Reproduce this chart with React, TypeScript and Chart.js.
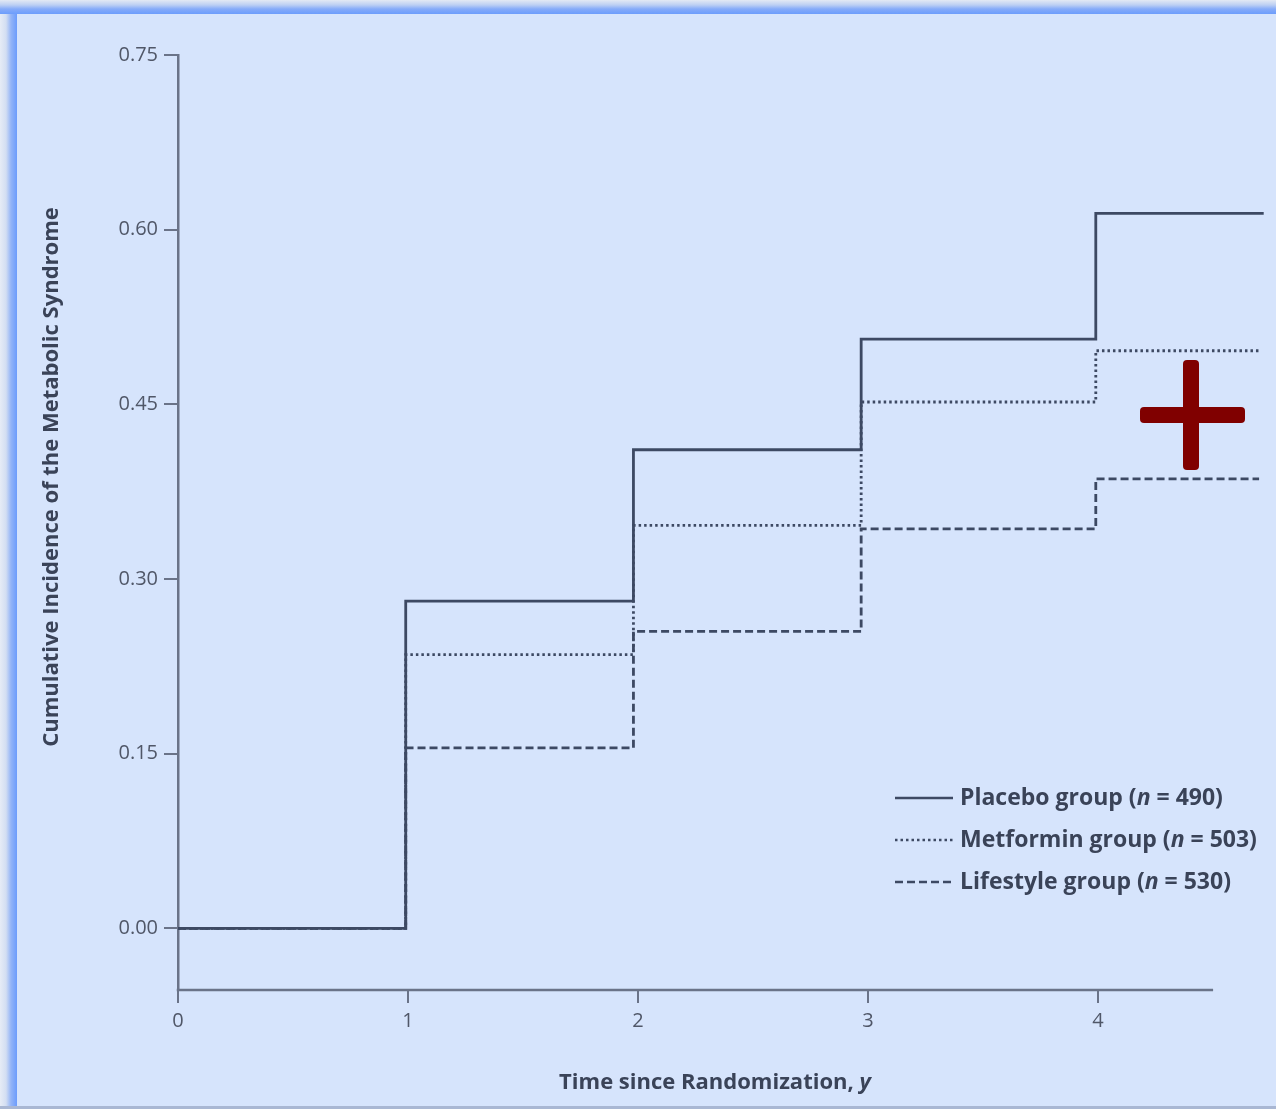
import React, { useEffect, useRef } from "react";
import { Chart, registerables } from "chart.js";

Chart.register(...registerables);

// ---- Data ----
const placeboX = [0, 0.99, 1.98, 2.97, 3.99, 4.72];
const placeboY = [0, 0.281, 0.411, 0.506, 0.614, 0.614];
const metforminX = [0, 0.99, 1.98, 2.97, 3.99, 4.71];
const metforminY = [0, 0.235, 0.346, 0.452, 0.496, 0.496];
const lifestyleX = [0, 0.99, 1.98, 2.97, 3.99, 4.7];
const lifestyleY = [0, 0.155, 0.255, 0.343, 0.386, 0.386];

const yTicks = [0, 0.15, 0.3, 0.45, 0.6, 0.75];
const xTicks = [0, 1, 2, 3, 4];

const legendNames = ["Placebo group (", "Metformin group (", "Lifestyle group ("];
const legendN = ["490", "503", "530"];
const yTitle = "Cumulative Incidence of the Metabolic Syndrome";
const xTitleMain = "Time since Randomization, ";
const xTitleItalic = "y";

const LINE = "#3d4963";
const AXIS = "#6a7388";
const TEXT = "#3a4358";
const TICKTXT = "#505768";
const FONT = "'Open Sans', 'Noto Sans', sans-serif";
const dashes: number[][] = [[], [2.5, 3], [8, 4]];

const toPts = (xs: number[], ys: number[]) => xs.map((x, i) => ({ x, y: ys[i] }));

const decor = {
  id: "decor",
  afterDraw(chart: any) {
    const ctx = chart.ctx as CanvasRenderingContext2D;
    const xs = chart.scales.x;
    const area = chart.chartArea;
    ctx.save();
    // x axis line (ends at 4.5)
    ctx.strokeStyle = AXIS;
    ctx.lineWidth = 2.5;
    ctx.beginPath();
    ctx.moveTo(xs.getPixelForValue(0) - 1.25, area.bottom);
    ctx.lineTo(xs.getPixelForValue(4.5), area.bottom);
    ctx.stroke();

    const F = `bold 22px ${FONT}`;
    const FI = `italic bold 22px ${FONT}`;

    // y axis title
    ctx.fillStyle = TEXT;
    ctx.font = F;
    ctx.textBaseline = "middle";
    ctx.textAlign = "center";
    ctx.save();
    ctx.translate(52, 477);
    ctx.rotate(-Math.PI / 2);
    ctx.fillText(yTitle, 0, 0);
    ctx.restore();

    // x axis title with italic y
    ctx.textAlign = "left";
    ctx.font = F;
    const w1 = ctx.measureText(xTitleMain).width;
    ctx.font = FI;
    const w2 = ctx.measureText(xTitleItalic).width;
    const sx = 715 - (w1 + w2) / 2;
    ctx.font = F;
    ctx.fillText(xTitleMain, sx, 1083);
    ctx.font = FI;
    ctx.fillText(xTitleItalic, sx + w1, 1083);

    // legend
    const LF = `bold 23px ${FONT}`;
    const LFI = `italic bold 23px ${FONT}`;
    const rows = [798, 840, 882];
    rows.forEach((ry, i) => {
      ctx.strokeStyle = LINE;
      ctx.lineWidth = 2.4;
      ctx.setLineDash(dashes[i]);
      ctx.beginPath();
      ctx.moveTo(895, ry);
      ctx.lineTo(953, ry);
      ctx.stroke();
      ctx.setLineDash([]);
      let tx = 960;
      ctx.fillStyle = TEXT;
      ctx.font = LF;
      ctx.fillText(legendNames[i], tx, ry);
      tx += ctx.measureText(legendNames[i]).width;
      ctx.font = LFI;
      ctx.fillText("n", tx, ry);
      tx += ctx.measureText("n").width;
      ctx.font = LF;
      ctx.fillText(` = ${legendN[i]})`, tx, ry);
    });

    // red plus annotation
    ctx.fillStyle = "#800000";
    const rr = (x: number, y: number, w: number, h: number, r: number) => {
      ctx.beginPath();
      ctx.moveTo(x + r, y);
      ctx.arcTo(x + w, y, x + w, y + h, r);
      ctx.arcTo(x + w, y + h, x, y + h, r);
      ctx.arcTo(x, y + h, x, y, r);
      ctx.arcTo(x, y, x + w, y, r);
      ctx.closePath();
      ctx.fill();
    };
    rr(1183, 360, 16, 110, 4);
    rr(1140, 407, 105, 16, 4);
    ctx.restore();
  },
};

export default function App() {
  const ref = useRef<HTMLCanvasElement | null>(null);
  useEffect(() => {
    if (!ref.current) return;
    const common = {
      stepped: "before" as const,
      pointRadius: 0,
      fill: false,
      borderColor: LINE,
      borderWidth: 2.8,
      borderCapStyle: "butt" as const,
    };
    const chart = new Chart(ref.current, {
      type: "line",
      data: {
        datasets: [
          { ...common, label: "Placebo group (n = 490)", data: toPts(placeboX, placeboY) },
          { ...common, label: "Metformin group (n = 503)", data: toPts(metforminX, metforminY), borderDash: [2.5, 3] },
          { ...common, label: "Lifestyle group (n = 530)", data: toPts(lifestyleX, lifestyleY), borderDash: [8, 4] },
        ],
      },
      options: {
        animation: false,
        responsive: false,
        devicePixelRatio: 1,
        layout: { padding: { top: 55, right: 10, left: 0, bottom: 0 } },
        plugins: { legend: { display: false }, tooltip: { enabled: false } },
        scales: {
          x: {
            type: "linear",
            min: 0,
            max: 4.73,
            afterFit: (s: any) => {
              s.height = 119;
            },
            afterBuildTicks: (s: any) => {
              s.ticks = xTicks.map((v) => ({ value: v }));
            },
            border: { display: false },
            grid: {
              drawOnChartArea: false,
              drawTicks: true,
              tickLength: 13,
              color: AXIS,
              lineWidth: 2,
            },
            ticks: {
              padding: 6,
              color: TICKTXT,
              font: { family: FONT, size: 20 },
              maxRotation: 0,
              callback: (v: any) => String(v),
            },
          },
          y: {
            type: "linear",
            min: -0.053,
            max: 0.75,
            afterFit: (s: any) => {
              s.width = 178;
            },
            afterBuildTicks: (s: any) => {
              s.ticks = yTicks.map((v) => ({ value: v }));
            },
            border: { display: true, color: AXIS, width: 2.5 },
            grid: {
              drawOnChartArea: false,
              drawTicks: true,
              tickLength: 14,
              color: AXIS,
              lineWidth: 2,
            },
            ticks: {
              padding: 6,
              color: TICKTXT,
              font: { family: FONT, size: 20 },
              callback: (v: any) => Number(v).toFixed(2),
            },
          },
        },
      },
      plugins: [decor],
    });
    return () => chart.destroy();
  }, []);

  return (
    <div style={{ position: "absolute", left: 0, top: 0, width: 1276, height: 1109, background: "#d6e4fc", overflow: "hidden" }}>
      <div style={{ position: "absolute", left: 0, top: 0, width: 17, height: 1109, background: "linear-gradient(to right, #e6ecf6 0px, #d3def2 6px, #93b4f7 11px, #6c9cfc 17px)" }} />
      <div style={{ position: "absolute", left: 0, top: 0, width: 1276, height: 14, background: "linear-gradient(to bottom, #e3e9f4 0px, #bccff3 5px, #86abf9 9px, #6c9dfc 14px)" }} />
      <div style={{ position: "absolute", left: 0, top: 1106, width: 1276, height: 3, background: "#a9b7d3" }} />
      <canvas ref={ref} width={1276} height={1109} style={{ position: "absolute", left: 0, top: 0 }} />
    </div>
  );
}
